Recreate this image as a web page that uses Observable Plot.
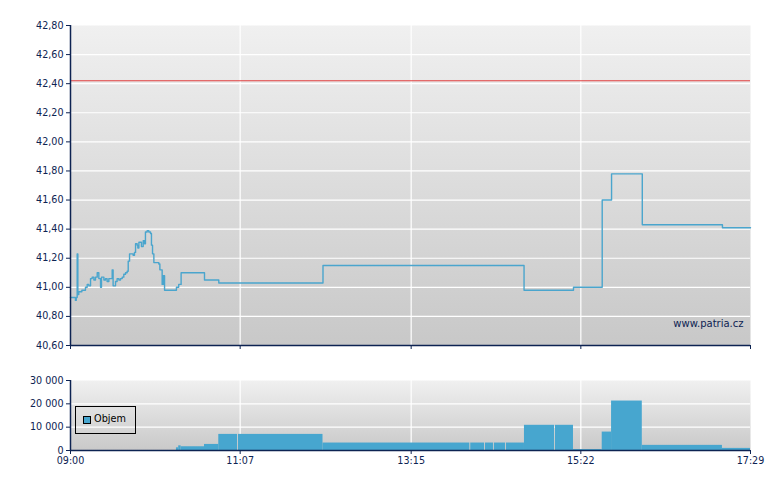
<!DOCTYPE html>
<html>
<head>
<meta charset="utf-8">
<script src="https://cdn.jsdelivr.net/npm/d3@7"></script>
<script src="https://cdn.jsdelivr.net/npm/@observablehq/plot@0.6"></script>
<style>
  html, body { margin: 0; padding: 0; background: #fff; }
  #wrap { position: relative; width: 780px; height: 490px; font-family: "DejaVu Sans", sans-serif; }
  #wrap svg { display: block; }
  #legend { position: absolute; left: 75px; top: 406px; width: 59px; height: 26px; border: 1px solid #000; box-sizing: content-box; }
  #legend .sw { position: absolute; left: 7px; top: 9px; width: 6px; height: 6px; border: 1px solid #000; background: #47a6cf; }
  #legend .lb { position: absolute; left: 18px; top: 5px; font-size: 9.7px; color: #000; line-height: 14px; }
</style>
</head>
<body>
<div id="wrap"></div>
<script>
// ---- data ----
const timeTicks = ["09:00", "11:07", "13:15", "15:22", "17:29"];
const priceTicks = [40.6, 40.8, 41.0, 41.2, 41.4, 41.6, 41.8, 42.0, 42.2, 42.4, 42.6, 42.8];
const volumeTicks = [0, 10000, 20000, 30000];
const referencePrice = 42.42;

// minutes since 09:00
const priceMinutes = [0, 3.7, 4.3, 5.0, 5.5, 6.2, 8.5, 11.2, 12.5, 13.7,
  15.0, 16.2, 17.5, 18.7, 20.0, 21.2, 22.5, 23.2, 25.0, 26.2,
  27.4, 28.7, 29.9, 31.2, 31.9, 33.7, 34.9, 36.2, 37.4, 38.7,
  39.9, 41.2, 42.4, 43.2, 44.2, 45.4, 46.9, 47.9, 48.7, 49.9,
  50.4, 51.2, 52.4, 53.1, 54.4, 55.4, 56.1, 57.4, 58.6, 59.9,
  60.6, 61.4, 62.4, 64.9, 66.1, 66.9, 67.9, 68.6, 69.4, 70.4,
  79.3, 81.0, 82.8, 100.3, 111.0, 189.0, 339.5, 376.5, 398.0, 405.0,
  428.0, 488.0, 509.0];
const priceValues = [40.93, 40.91, 40.93, 41.23, 40.95, 40.97, 40.98, 41.00, 41.02, 41.01,
  41.06, 41.07, 41.05, 41.07, 41.10, 41.06, 41.00, 41.07, 41.05, 41.06,
  41.04, 41.06, 41.06, 41.12, 41.01, 41.04, 41.06, 41.05, 41.06, 41.07,
  41.09, 41.10, 41.11, 41.18, 41.23, 41.23, 41.22, 41.24, 41.30, 41.29,
  41.27, 41.31, 41.31, 41.28, 41.32, 41.30, 41.38, 41.39, 41.38, 41.37,
  41.29, 41.23, 41.17, 41.17, 41.16, 41.12, 41.12, 41.02, 41.08, 40.98,
  41.00, 41.02, 41.10, 41.05, 41.03, 41.15, 40.98, 41.00, 41.60, 41.78,
  41.43, 41.41, 41.41];

// volume bars: start minute, end minute, volume
const volumeStart = [79.3, 81.0, 82.8, 100.3, 111.0, 125.7, 189.0, 299.6, 310.6, 317.3, 326.3, 339.8, 363.0, 376.5, 398.0, 405.0, 428.0, 488.0];
const volumeEnd   = [81.0, 82.8, 100.3, 111.0, 125.0, 189.0, 298.9, 309.9, 316.6, 325.6, 339.8, 362.3, 376.5, 398.0, 405.0, 428.0, 488.0, 509.0];
const volumeValues = [1150, 2000, 1600, 2600, 6900, 6900, 3200, 3200, 3200, 3200, 3200, 10800, 10800, 400, 7900, 21200, 2200, 900];

// ---- helpers ----
const toMin = s => { const [h, m] = s.split(":").map(Number); return (h - 9) * 60 + m; };
const tickMins = timeTicks.map(toMin);
const price = priceMinutes.map((t, i) => ({ t, v: priceValues[i] }));
const volume = volumeStart.map((s, i) => ({ s, e: volumeEnd[i], v: volumeValues[i] }));

const navy = "#0d2352";
const font = "DejaVu Sans, sans-serif";

function gradientDefs(id, top, bottom) {
  return () => {
    const defs = d3.create("svg:defs");
    const lg = defs.append("linearGradient").attr("id", id)
      .attr("x1", 0).attr("y1", 0).attr("x2", 0).attr("y2", 1);
    lg.append("stop").attr("offset", "0%").attr("stop-color", top);
    lg.append("stop").attr("offset", "100%").attr("stop-color", bottom);
    return defs.node();
  };
}

const priceChart = Plot.plot({
  width: 780, height: 360,
  marginTop: 25, marginBottom: 15, marginLeft: 70, marginRight: 30,
  style: { fontFamily: font, fontSize: "9.6px", background: "white", color: navy },
  x: { domain: [0, 509], axis: null },
  y: { domain: [40.6, 42.8], axis: null },
  marks: [
    gradientDefs("gp", "#f0f0f0", "#c8c8c8"),
    Plot.frame({ fill: "url(#gp)", stroke: "none" }),
    Plot.gridY(priceTicks.slice(1, -1), { stroke: "white", strokeOpacity: 1, strokeWidth: 1.2 }),
    Plot.gridX(tickMins.slice(1, -1), { stroke: "white", strokeOpacity: 1, strokeWidth: 1.2 }),
    Plot.ruleY([referencePrice], { stroke: "#e23c3c", strokeWidth: 1 }),
    Plot.line(price, { x: "t", y: "v", curve: "step-after", stroke: "#4aa5cd", strokeWidth: 1.4 }),
    Plot.axisY(priceTicks, { label: null, tickSize: 4, tickPadding: 3, stroke: navy, fill: navy,
      tickFormat: d => d.toFixed(2).replace(".", ",") }),
    Plot.axisX(tickMins, { label: null, tickSize: 4, stroke: navy, tickFormat: () => "" }),
    Plot.ruleX([0], { stroke: navy, strokeWidth: 1.5 }),
    Plot.ruleY([40.6], { stroke: navy, strokeWidth: 1.5 }),
    Plot.text(["www.patria.cz"], { frameAnchor: "bottom-right", lineAnchor: "middle",
      dx: -7, dy: -22, fill: navy, fontSize: 10 })
  ]
});

const volumeChart = Plot.plot({
  width: 780, height: 130,
  marginTop: 20, marginBottom: 40, marginLeft: 70, marginRight: 30,
  style: { fontFamily: font, fontSize: "9.6px", background: "white", color: navy },
  x: { domain: [0, 509], axis: null },
  y: { domain: [0, 30000], axis: null },
  marks: [
    gradientDefs("gv", "#f0f0f0", "#c9c9c9"),
    Plot.frame({ fill: "url(#gv)", stroke: "none" }),
    Plot.gridY(volumeTicks.slice(1, -1), { stroke: "white", strokeOpacity: 1, strokeWidth: 1.2 }),
    Plot.gridX(tickMins.slice(1, -1), { stroke: "white", strokeOpacity: 1, strokeWidth: 1.2 }),
    Plot.rectY(volume, { x1: "s", x2: "e", y: "v", fill: "#47a6cf" }),
    Plot.axisY(volumeTicks, { label: null, tickSize: 4, tickPadding: 3, stroke: navy, fill: navy,
      tickFormat: d => d3.format(",")(d).replace(/,/g, " ") }),
    Plot.axisX(tickMins, { label: null, tickSize: 4, tickPadding: 3, stroke: navy, fill: navy,
      tickFormat: (d, i) => timeTicks[i] }),
    Plot.ruleX([0], { stroke: navy, strokeWidth: 1.5 }),
    Plot.ruleY([0], { stroke: navy, strokeWidth: 1.5 })
  ]
});

const wrap = document.getElementById("wrap");
wrap.appendChild(priceChart);
wrap.appendChild(volumeChart);
const legend = document.createElement("div");
legend.id = "legend";
legend.innerHTML = '<div class="sw"></div><div class="lb">Objem</div>';
wrap.appendChild(legend);
</script>
</body>
</html>
